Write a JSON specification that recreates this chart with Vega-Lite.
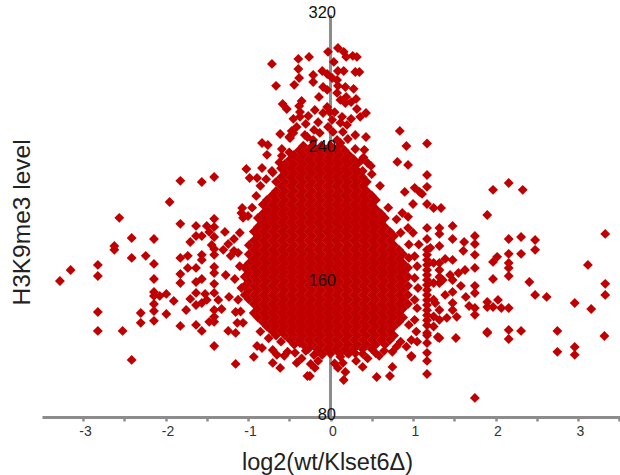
{"$schema":"https://vega.github.io/schema/vega-lite/v6.json","width":578,"height":402,"autosize":{"type":"none"},"padding":{"left":42,"top":15,"right":0,"bottom":58},"background":"white","config":{"view":{"stroke":null}},
"data":{"values":[
{"x":-1.0,"y":200},{"x":-0.95,"y":205},{"x":-0.9,"y":212},{"x":-0.85,"y":218},{"x":-0.78,"y":222},{"x":-0.7,"y":226},{"x":-0.5,"y":238},{"x":-0.62,"y":232},{"x":0.3,"y":240},{"x":0.4,"y":235},{"x":0.5,"y":225},{"x":0.6,"y":218},{"x":0.7,"y":205},{"x":0.8,"y":198},{"x":0.85,"y":190},{"x":0.95,"y":175},{"x":-0.6,"y":125},{"x":-0.52,"y":119},{"x":-0.35,"y":115},{"x":-0.2,"y":117},{"x":0.05,"y":112},{"x":0.3,"y":118},{"x":0.45,"y":115},{"x":0.55,"y":118},{"x":0.8,"y":122},{"x":-0.75,"y":127},{"x":-0.85,"y":131},{"x":0.85,"y":125},{"x":0.95,"y":135},{"x":1.05,"y":125},{"x":-0.3,"y":255},{"x":-0.15,"y":256},{"x":0.25,"y":258},{"x":0.05,"y":262},{"x":-0.45,"y":258},{"x":0.25,"y":268},
{"x":-1.82,"y":221},{"x":-1.56,"y":220.3},{"x":-1.41,"y":223.3},{"x":-1.95,"y":208.4},{"x":-2.56,"y":198.9},{"x":-2.41,"y":186.9},{"x":-2.14,"y":186.3},{"x":-2.62,"y":182.1},{"x":-2.62,"y":179.8},{"x":-2.41,"y":175},{"x":-2.24,"y":176.2},{"x":-2.14,"y":171.4},{"x":-2.82,"y":170.8},{"x":-2.82,"y":164.2},{"x":-3.15,"y":167.8},{"x":-3.28,"y":161.2},{"x":-2.14,"y":162.4},{"x":-2.14,"y":154.7},{"x":-2.14,"y":152.3},{"x":-2.07,"y":152.3},{"x":-1.99,"y":153.5},{"x":-1.9,"y":149.3},{"x":-2.14,"y":147.5},{"x":-2.14,"y":143.3},{"x":-2.3,"y":142.1},{"x":-2.3,"y":136.2},{"x":-2.14,"y":137.4},{"x":-1.99,"y":141.5},{"x":-2.82,"y":142.7},{"x":-2.82,"y":131.4},{"x":-2.52,"y":131.4},{"x":-2.41,"y":114.1},{"x":-1.82,"y":134.4},{"x":-1.41,"y":122.4},{"x":-1.15,"y":111.7},
{"x":-1.82,"y":195.3},{"x":-1.63,"y":194.1},{"x":-1.5,"y":194.1},{"x":-1.41,"y":198.3},{"x":-1.41,"y":193.5},{"x":-1.47,"y":190.5},{"x":-1.28,"y":190.5},{"x":-1.63,"y":188.1},{"x":-1.56,"y":188.1},{"x":-1.41,"y":187.5},{"x":-1.7,"y":184.5},{"x":-1.17,"y":186.3},{"x":-1.24,"y":183.3},{"x":-1.44,"y":182.7},{"x":-1.41,"y":180.3},{"x":-1.3,"y":179.8},{"x":-1.17,"y":179.2},{"x":-1.21,"y":176.2},{"x":-1.56,"y":176.8},{"x":-1.56,"y":173.8},{"x":-1.73,"y":176.2},{"x":-1.82,"y":175},{"x":-1.41,"y":176.8},{"x":-1.73,"y":169},{"x":-1.63,"y":169},{"x":-1.41,"y":169.6},{"x":-1.41,"y":166},{"x":-1.82,"y":165.4},{"x":-1.27,"y":164.8},{"x":-1.16,"y":162.4},{"x":-1.82,"y":160},{"x":-1.63,"y":160.6},{"x":-1.56,"y":162.4},{"x":-1.41,"y":159.5},{"x":-1.63,"y":154.1},{"x":-1.7,"y":150.5},{"x":-1.63,"y":146.9},{"x":-1.75,"y":143.9},{"x":-1.52,"y":153.5},{"x":-1.41,"y":154.1},{"x":-1.5,"y":149.9},{"x":-1.56,"y":148.1},{"x":-1.36,"y":149.9},{"x":-1.23,"y":151.7},{"x":-1.41,"y":143.9},{"x":-1.41,"y":139.8},{"x":-1.32,"y":144.5},{"x":-1.15,"y":142.7},{"x":-1.47,"y":136.8},{"x":-1.41,"y":136.8},{"x":-1.63,"y":135},{"x":-1.56,"y":131.4},{"x":-1.24,"y":131.4},{"x":-1.15,"y":130.2},{"x":-1.13,"y":136.2},{"x":-1.06,"y":136.2},{"x":-1.08,"y":201.8},{"x":-1.06,"y":198.9},{"x":-1.07,"y":204.8},
{"x":-0.71,"y":290.8},{"x":-0.66,"y":277.7},{"x":-0.39,"y":293.8},{"x":-0.26,"y":295},{"x":-0.39,"y":287.8},{"x":-0.38,"y":282.4},{"x":-0.44,"y":278.3},{"x":-0.21,"y":284.2},{"x":-0.21,"y":280},{"x":-0.03,"y":298},{"x":0.09,"y":300.3},{"x":0.16,"y":298},{"x":0.19,"y":295},{"x":0.27,"y":295.6},{"x":0.32,"y":295},{"x":0.04,"y":292},{"x":-0.1,"y":286.6},{"x":-0.04,"y":284.8},{"x":0.09,"y":286.6},{"x":0.16,"y":286.6},{"x":0.3,"y":286},{"x":0.35,"y":286},{"x":0.02,"y":282.4},{"x":0.08,"y":281.2},{"x":-0.09,"y":277},{"x":-0.04,"y":275.3},{"x":0.09,"y":277.7},{"x":0.18,"y":277},{"x":0.28,"y":275.9},{"x":0.08,"y":273.5},{"x":-0.14,"y":271.1},{"x":0.31,"y":269.9},{"x":-0.35,"y":268.7},{"x":-0.58,"y":266.9},{"x":-0.53,"y":263.9},{"x":-0.38,"y":265.7},{"x":-0.37,"y":262.1},{"x":-0.19,"y":263.3},{"x":-0.04,"y":265.1},{"x":-0.01,"y":262.1},{"x":-0.09,"y":261.5},{"x":0.12,"y":269.3},{"x":0.18,"y":267.5},{"x":0.19,"y":271.1},{"x":-0.37,"y":259.2},{"x":-0.27,"y":259.7},{"x":0.32,"y":263.9},{"x":0.36,"y":259.2},{"x":0.43,"y":261.5},{"x":0.14,"y":259.2},{"x":0.02,"y":257.4},{"x":0.12,"y":255.6},{"x":0.2,"y":254.4},{"x":-0.03,"y":253.2},{"x":-0.41,"y":253.2},{"x":-0.47,"y":250.8},{"x":-0.61,"y":249},{"x":-0.5,"y":247.2},{"x":-0.2,"y":251.4},{"x":-0.31,"y":248.4},{"x":-0.13,"y":249.6},{"x":0.03,"y":250.2},{"x":0.15,"y":250.2},{"x":0.3,"y":248.4},{"x":0.43,"y":247.2},{"x":0.21,"y":246},{"x":0.84,"y":250.8},{"x":0.92,"y":241.8},{"x":0.81,"y":232.3},{"x":0.94,"y":230.5},{"x":-0.83,"y":243.6},{"x":-0.76,"y":242.4},{"x":-0.59,"y":240},{"x":-0.77,"y":236.5},{"x":-0.59,"y":235.9},{"x":-1.02,"y":228.1},{"x":-0.83,"y":228.7},{"x":-0.71,"y":226.9},{"x":0.41,"y":239.5},{"x":0.38,"y":233.5},{"x":0.45,"y":231.7},{"x":0.49,"y":229.9},{"x":0.33,"y":226.9},{"x":0.39,"y":226.9},{"x":-0.98,"y":222.7},{"x":-0.89,"y":222.7},{"x":-0.49,"y":246.6},{"x":-0.28,"y":247.2},{"x":-0.21,"y":245.4},{"x":0.08,"y":245.4},{"x":0.12,"y":243.6},{"x":-0.45,"y":249.6},
{"x":1.17,"y":243.3},{"x":1.17,"y":224.5},{"x":1.17,"y":217.4},{"x":0.9,"y":214.4},{"x":1.02,"y":216.8},{"x":1.08,"y":214.4},{"x":1.11,"y":213.2},{"x":1.0,"y":207.2},{"x":1.17,"y":207.2},{"x":1.25,"y":204.8},{"x":1.34,"y":204.8},{"x":0.94,"y":199.5},{"x":0.87,"y":201.8},{"x":0.94,"y":192.9},{"x":1.17,"y":192.9},{"x":1.32,"y":192.9},{"x":1.32,"y":189.3},{"x":1.48,"y":194.1},{"x":1.48,"y":186.3},{"x":1.75,"y":188.1},{"x":1.75,"y":183.3},{"x":1.62,"y":184.5},{"x":1.61,"y":179.2},{"x":1.75,"y":176.8},{"x":1.17,"y":186.3},{"x":1.32,"y":182.1},{"x":1.21,"y":181},{"x":1.75,"y":169},{"x":1.63,"y":167.8},{"x":1.55,"y":166},{"x":1.48,"y":173.8},{"x":1.39,"y":174.4},{"x":1.32,"y":172},{"x":1.32,"y":167.8},{"x":1.32,"y":163.6},{"x":1.32,"y":160},{"x":1.36,"y":161.8},{"x":1.45,"y":164.8},{"x":1.48,"y":161.8},{"x":1.58,"y":158.3},{"x":1.75,"y":158.3},{"x":1.75,"y":154},{"x":1.64,"y":151.7},{"x":1.48,"y":154.7},{"x":1.39,"y":152.9},{"x":1.68,"y":146.3},{"x":1.75,"y":145.1},{"x":1.75,"y":141},{"x":1.48,"y":148.1},{"x":1.48,"y":143.9},{"x":1.53,"y":139.8},{"x":1.41,"y":139.2},{"x":1.32,"y":138},{"x":1.27,"y":148.1},{"x":1.32,"y":143.9},{"x":1.32,"y":127.2},{"x":1.52,"y":127.2},{"x":0.98,"y":115.9},{"x":1.75,"y":91.4},
{"x":1.97,"y":215.6},{"x":2.16,"y":219.7},{"x":2.33,"y":215.6},{"x":1.9,"y":200.6},{"x":3.33,"y":189.3},{"x":2.16,"y":186.3},{"x":2.31,"y":187.5},{"x":2.48,"y":185.7},{"x":2.48,"y":179.8},{"x":2.16,"y":177.4},{"x":2.31,"y":177.4},{"x":2.02,"y":175.6},{"x":1.97,"y":172.6},{"x":2.16,"y":172},{"x":2.16,"y":169},{"x":2.16,"y":164.2},{"x":1.97,"y":162.4},{"x":3.12,"y":170.8},{"x":2.41,"y":160.6},{"x":3.33,"y":159.5},{"x":3.33,"y":152.9},{"x":2.48,"y":152.9},{"x":2.62,"y":151.7},{"x":2.96,"y":148.1},{"x":3.16,"y":144.5},{"x":1.9,"y":148.7},{"x":1.9,"y":145.7},{"x":2.03,"y":149.9},{"x":1.97,"y":145.7},{"x":2.07,"y":145.1},{"x":2.16,"y":145.1},{"x":1.9,"y":130.8},{"x":2.16,"y":132},{"x":2.16,"y":126.6},{"x":2.31,"y":131.4},{"x":2.75,"y":131.4},{"x":3.32,"y":128.4},{"x":2.75,"y":118.9},{"x":2.96,"y":121.8},{"x":2.96,"y":117.1},
{"x":-0.93,"y":115.9},{"x":-0.89,"y":122.4},{"x":-0.83,"y":121.2},{"x":-0.7,"y":120},{"x":-0.65,"y":117.1},{"x":-0.7,"y":112.3},{"x":-0.56,"y":116.5},{"x":-0.61,"y":109.3},{"x":-0.41,"y":112.3},{"x":-0.43,"y":118.3},{"x":-0.37,"y":124.2},{"x":-0.3,"y":119.5},{"x":-0.24,"y":111.7},{"x":-0.19,"y":109.3},{"x":-0.15,"y":113.5},{"x":-0.28,"y":104.5},{"x":-0.25,"y":104.5},{"x":-0.1,"y":117.1},{"x":0.09,"y":109.3},{"x":0.16,"y":102.1},{"x":0.18,"y":106.9},{"x":0.15,"y":112.3},{"x":0.12,"y":115.9},{"x":0.2,"y":118.3},{"x":0.31,"y":113.5},{"x":0.39,"y":109.9},{"x":0.39,"y":117.7},{"x":0.56,"y":103.9},{"x":0.72,"y":104.5},{"x":0.75,"y":109.9},{"x":0.59,"y":116.5},{"x":0.65,"y":119.5},{"x":0.75,"y":118.9},{"x":0.98,"y":116.5},{"x":1.17,"y":105.7},{"x":1.17,"y":113.5},{"x":1.17,"y":118.3},{"x":1.17,"y":124.2},{"x":1.3,"y":127.8},{"x":1.17,"y":130.2},{"x":1.9,"y":130.2},
{"x":1.17,"y":179.8},{"x":1.17,"y":176.8},{"x":1.17,"y":173.8},{"x":1.17,"y":170.8},{"x":1.17,"y":167.8},{"x":1.17,"y":164.8},{"x":1.17,"y":161.8},{"x":1.17,"y":158.8},{"x":1.17,"y":155.8},{"x":1.17,"y":152.8},{"x":1.17,"y":149.8},{"x":1.17,"y":146.8},{"x":1.17,"y":143.8},{"x":1.17,"y":140.8},{"x":1.17,"y":137.8},{"x":1.17,"y":134.8},{"x":1.17,"y":128.8},
{"x":1.02,"y":176},{"x":1.05,"y":170},{"x":1.02,"y":163},{"x":1.06,"y":157},{"x":1.02,"y":150},{"x":1.05,"y":145},{"x":1.02,"y":138},{"x":1.04,"y":131},{"x":0.98,"y":126},{"x":0.92,"y":122},{"x":1.07,"y":183},{"x":1.0,"y":190},{"x":0.95,"y":183},{"x":1.25,"y":172},{"x":1.25,"y":160},{"x":1.25,"y":150},{"x":1.25,"y":140},{"x":1.25,"y":134},{"x":-1.1,"y":190},{"x":-1.12,"y":178},{"x":-1.1,"y":170},{"x":-1.12,"y":150},{"x":-1.09,"y":143},{"x":-1.08,"y":157},
{"x":-0.33,"y":242},{"x":-0.22,"y":242},{"x":-0.11,"y":242},{"x":0,"y":242},{"x":0.11,"y":242},
{"x":-0.38,"y":239.3},{"x":-0.27,"y":239.3},{"x":-0.16,"y":239.3},{"x":-0.05,"y":239.3},{"x":0.06,"y":239.3},{"x":0.17,"y":239.3},
{"x":-0.44,"y":236.6},{"x":-0.33,"y":236.6},{"x":-0.22,"y":236.6},{"x":-0.11,"y":236.6},{"x":0,"y":236.6},{"x":0.11,"y":236.6},{"x":0.22,"y":236.6},
{"x":-0.49,"y":233.9},{"x":-0.38,"y":233.9},{"x":-0.27,"y":233.9},{"x":-0.16,"y":233.9},{"x":-0.05,"y":233.9},{"x":0.06,"y":233.9},{"x":0.17,"y":233.9},{"x":0.28,"y":233.9},
{"x":-0.55,"y":231.2},{"x":-0.44,"y":231.2},{"x":-0.33,"y":231.2},{"x":-0.22,"y":231.2},{"x":-0.11,"y":231.2},{"x":0,"y":231.2},{"x":0.11,"y":231.2},{"x":0.22,"y":231.2},{"x":0.33,"y":231.2},
{"x":-0.6,"y":228.5},{"x":-0.49,"y":228.5},{"x":-0.38,"y":228.5},{"x":-0.27,"y":228.5},{"x":-0.16,"y":228.5},{"x":-0.05,"y":228.5},{"x":0.06,"y":228.5},{"x":0.17,"y":228.5},{"x":0.28,"y":228.5},
{"x":-0.55,"y":225.8},{"x":-0.44,"y":225.8},{"x":-0.33,"y":225.8},{"x":-0.22,"y":225.8},{"x":-0.11,"y":225.8},{"x":0,"y":225.8},{"x":0.11,"y":225.8},{"x":0.22,"y":225.8},{"x":0.33,"y":225.8},
{"x":-0.6,"y":223.1},{"x":-0.49,"y":223.1},{"x":-0.38,"y":223.1},{"x":-0.27,"y":223.1},{"x":-0.16,"y":223.1},{"x":-0.05,"y":223.1},{"x":0.06,"y":223.1},{"x":0.17,"y":223.1},{"x":0.28,"y":223.1},{"x":0.39,"y":223.1},
{"x":-0.66,"y":220.4},{"x":-0.55,"y":220.4},{"x":-0.44,"y":220.4},{"x":-0.33,"y":220.4},{"x":-0.22,"y":220.4},{"x":-0.11,"y":220.4},{"x":0,"y":220.4},{"x":0.11,"y":220.4},{"x":0.22,"y":220.4},{"x":0.33,"y":220.4},{"x":0.44,"y":220.4},
{"x":-0.6,"y":217.7},{"x":-0.49,"y":217.7},{"x":-0.38,"y":217.7},{"x":-0.27,"y":217.7},{"x":-0.16,"y":217.7},{"x":-0.05,"y":217.7},{"x":0.06,"y":217.7},{"x":0.17,"y":217.7},{"x":0.28,"y":217.7},{"x":0.39,"y":217.7},
{"x":-0.66,"y":215},{"x":-0.55,"y":215},{"x":-0.44,"y":215},{"x":-0.33,"y":215},{"x":-0.22,"y":215},{"x":-0.11,"y":215},{"x":0,"y":215},{"x":0.11,"y":215},{"x":0.22,"y":215},{"x":0.33,"y":215},{"x":0.44,"y":215},
{"x":-0.71,"y":212.3},{"x":-0.6,"y":212.3},{"x":-0.49,"y":212.3},{"x":-0.38,"y":212.3},{"x":-0.27,"y":212.3},{"x":-0.16,"y":212.3},{"x":-0.05,"y":212.3},{"x":0.06,"y":212.3},{"x":0.17,"y":212.3},{"x":0.28,"y":212.3},{"x":0.39,"y":212.3},{"x":0.5,"y":212.3},
{"x":-0.77,"y":209.6},{"x":-0.66,"y":209.6},{"x":-0.55,"y":209.6},{"x":-0.44,"y":209.6},{"x":-0.33,"y":209.6},{"x":-0.22,"y":209.6},{"x":-0.11,"y":209.6},{"x":0,"y":209.6},{"x":0.11,"y":209.6},{"x":0.22,"y":209.6},{"x":0.33,"y":209.6},{"x":0.44,"y":209.6},{"x":0.55,"y":209.6},
{"x":-0.82,"y":206.9},{"x":-0.71,"y":206.9},{"x":-0.6,"y":206.9},{"x":-0.49,"y":206.9},{"x":-0.38,"y":206.9},{"x":-0.27,"y":206.9},{"x":-0.16,"y":206.9},{"x":-0.05,"y":206.9},{"x":0.06,"y":206.9},{"x":0.17,"y":206.9},{"x":0.28,"y":206.9},{"x":0.39,"y":206.9},{"x":0.5,"y":206.9},
{"x":-0.77,"y":204.2},{"x":-0.66,"y":204.2},{"x":-0.55,"y":204.2},{"x":-0.44,"y":204.2},{"x":-0.33,"y":204.2},{"x":-0.22,"y":204.2},{"x":-0.11,"y":204.2},{"x":0,"y":204.2},{"x":0.11,"y":204.2},{"x":0.22,"y":204.2},{"x":0.33,"y":204.2},{"x":0.44,"y":204.2},{"x":0.55,"y":204.2},
{"x":-0.82,"y":201.5},{"x":-0.71,"y":201.5},{"x":-0.6,"y":201.5},{"x":-0.49,"y":201.5},{"x":-0.38,"y":201.5},{"x":-0.27,"y":201.5},{"x":-0.16,"y":201.5},{"x":-0.05,"y":201.5},{"x":0.06,"y":201.5},{"x":0.17,"y":201.5},{"x":0.28,"y":201.5},{"x":0.39,"y":201.5},{"x":0.5,"y":201.5},{"x":0.61,"y":201.5},
{"x":-0.88,"y":198.8},{"x":-0.77,"y":198.8},{"x":-0.66,"y":198.8},{"x":-0.55,"y":198.8},{"x":-0.44,"y":198.8},{"x":-0.33,"y":198.8},{"x":-0.22,"y":198.8},{"x":-0.11,"y":198.8},{"x":0,"y":198.8},{"x":0.11,"y":198.8},{"x":0.22,"y":198.8},{"x":0.33,"y":198.8},{"x":0.44,"y":198.8},{"x":0.55,"y":198.8},{"x":0.66,"y":198.8},
{"x":-0.82,"y":196.1},{"x":-0.71,"y":196.1},{"x":-0.6,"y":196.1},{"x":-0.49,"y":196.1},{"x":-0.38,"y":196.1},{"x":-0.27,"y":196.1},{"x":-0.16,"y":196.1},{"x":-0.05,"y":196.1},{"x":0.06,"y":196.1},{"x":0.17,"y":196.1},{"x":0.28,"y":196.1},{"x":0.39,"y":196.1},{"x":0.5,"y":196.1},{"x":0.61,"y":196.1},
{"x":-0.88,"y":193.4},{"x":-0.77,"y":193.4},{"x":-0.66,"y":193.4},{"x":-0.55,"y":193.4},{"x":-0.44,"y":193.4},{"x":-0.33,"y":193.4},{"x":-0.22,"y":193.4},{"x":-0.11,"y":193.4},{"x":0,"y":193.4},{"x":0.11,"y":193.4},{"x":0.22,"y":193.4},{"x":0.33,"y":193.4},{"x":0.44,"y":193.4},{"x":0.55,"y":193.4},{"x":0.66,"y":193.4},
{"x":-0.93,"y":190.7},{"x":-0.82,"y":190.7},{"x":-0.71,"y":190.7},{"x":-0.6,"y":190.7},{"x":-0.49,"y":190.7},{"x":-0.38,"y":190.7},{"x":-0.27,"y":190.7},{"x":-0.16,"y":190.7},{"x":-0.05,"y":190.7},{"x":0.06,"y":190.7},{"x":0.17,"y":190.7},{"x":0.28,"y":190.7},{"x":0.39,"y":190.7},{"x":0.5,"y":190.7},{"x":0.61,"y":190.7},{"x":0.72,"y":190.7},
{"x":-0.88,"y":188},{"x":-0.77,"y":188},{"x":-0.66,"y":188},{"x":-0.55,"y":188},{"x":-0.44,"y":188},{"x":-0.33,"y":188},{"x":-0.22,"y":188},{"x":-0.11,"y":188},{"x":0,"y":188},{"x":0.11,"y":188},{"x":0.22,"y":188},{"x":0.33,"y":188},{"x":0.44,"y":188},{"x":0.55,"y":188},{"x":0.66,"y":188},{"x":0.77,"y":188},
{"x":-0.93,"y":185.3},{"x":-0.82,"y":185.3},{"x":-0.71,"y":185.3},{"x":-0.6,"y":185.3},{"x":-0.49,"y":185.3},{"x":-0.38,"y":185.3},{"x":-0.27,"y":185.3},{"x":-0.16,"y":185.3},{"x":-0.05,"y":185.3},{"x":0.06,"y":185.3},{"x":0.17,"y":185.3},{"x":0.28,"y":185.3},{"x":0.39,"y":185.3},{"x":0.5,"y":185.3},{"x":0.61,"y":185.3},{"x":0.72,"y":185.3},
{"x":-0.99,"y":182.6},{"x":-0.88,"y":182.6},{"x":-0.77,"y":182.6},{"x":-0.66,"y":182.6},{"x":-0.55,"y":182.6},{"x":-0.44,"y":182.6},{"x":-0.33,"y":182.6},{"x":-0.22,"y":182.6},{"x":-0.11,"y":182.6},{"x":0,"y":182.6},{"x":0.11,"y":182.6},{"x":0.22,"y":182.6},{"x":0.33,"y":182.6},{"x":0.44,"y":182.6},{"x":0.55,"y":182.6},{"x":0.66,"y":182.6},{"x":0.77,"y":182.6},
{"x":-0.93,"y":179.9},{"x":-0.82,"y":179.9},{"x":-0.71,"y":179.9},{"x":-0.6,"y":179.9},{"x":-0.49,"y":179.9},{"x":-0.38,"y":179.9},{"x":-0.27,"y":179.9},{"x":-0.16,"y":179.9},{"x":-0.05,"y":179.9},{"x":0.06,"y":179.9},{"x":0.17,"y":179.9},{"x":0.28,"y":179.9},{"x":0.39,"y":179.9},{"x":0.5,"y":179.9},{"x":0.61,"y":179.9},{"x":0.72,"y":179.9},{"x":0.83,"y":179.9},
{"x":-0.99,"y":177.2},{"x":-0.88,"y":177.2},{"x":-0.77,"y":177.2},{"x":-0.66,"y":177.2},{"x":-0.55,"y":177.2},{"x":-0.44,"y":177.2},{"x":-0.33,"y":177.2},{"x":-0.22,"y":177.2},{"x":-0.11,"y":177.2},{"x":0,"y":177.2},{"x":0.11,"y":177.2},{"x":0.22,"y":177.2},{"x":0.33,"y":177.2},{"x":0.44,"y":177.2},{"x":0.55,"y":177.2},{"x":0.66,"y":177.2},{"x":0.77,"y":177.2},{"x":0.88,"y":177.2},
{"x":-0.93,"y":174.5},{"x":-0.82,"y":174.5},{"x":-0.71,"y":174.5},{"x":-0.6,"y":174.5},{"x":-0.49,"y":174.5},{"x":-0.38,"y":174.5},{"x":-0.27,"y":174.5},{"x":-0.16,"y":174.5},{"x":-0.05,"y":174.5},{"x":0.06,"y":174.5},{"x":0.17,"y":174.5},{"x":0.28,"y":174.5},{"x":0.39,"y":174.5},{"x":0.5,"y":174.5},{"x":0.61,"y":174.5},{"x":0.72,"y":174.5},{"x":0.83,"y":174.5},
{"x":-0.99,"y":171.8},{"x":-0.88,"y":171.8},{"x":-0.77,"y":171.8},{"x":-0.66,"y":171.8},{"x":-0.55,"y":171.8},{"x":-0.44,"y":171.8},{"x":-0.33,"y":171.8},{"x":-0.22,"y":171.8},{"x":-0.11,"y":171.8},{"x":0,"y":171.8},{"x":0.11,"y":171.8},{"x":0.22,"y":171.8},{"x":0.33,"y":171.8},{"x":0.44,"y":171.8},{"x":0.55,"y":171.8},{"x":0.66,"y":171.8},{"x":0.77,"y":171.8},{"x":0.88,"y":171.8},
{"x":-1.04,"y":169.1},{"x":-0.93,"y":169.1},{"x":-0.82,"y":169.1},{"x":-0.71,"y":169.1},{"x":-0.6,"y":169.1},{"x":-0.49,"y":169.1},{"x":-0.38,"y":169.1},{"x":-0.27,"y":169.1},{"x":-0.16,"y":169.1},{"x":-0.05,"y":169.1},{"x":0.06,"y":169.1},{"x":0.17,"y":169.1},{"x":0.28,"y":169.1},{"x":0.39,"y":169.1},{"x":0.5,"y":169.1},{"x":0.61,"y":169.1},{"x":0.72,"y":169.1},{"x":0.83,"y":169.1},{"x":0.94,"y":169.1},
{"x":-0.99,"y":166.4},{"x":-0.88,"y":166.4},{"x":-0.77,"y":166.4},{"x":-0.66,"y":166.4},{"x":-0.55,"y":166.4},{"x":-0.44,"y":166.4},{"x":-0.33,"y":166.4},{"x":-0.22,"y":166.4},{"x":-0.11,"y":166.4},{"x":0,"y":166.4},{"x":0.11,"y":166.4},{"x":0.22,"y":166.4},{"x":0.33,"y":166.4},{"x":0.44,"y":166.4},{"x":0.55,"y":166.4},{"x":0.66,"y":166.4},{"x":0.77,"y":166.4},{"x":0.88,"y":166.4},
{"x":-1.04,"y":163.7},{"x":-0.93,"y":163.7},{"x":-0.82,"y":163.7},{"x":-0.71,"y":163.7},{"x":-0.6,"y":163.7},{"x":-0.49,"y":163.7},{"x":-0.38,"y":163.7},{"x":-0.27,"y":163.7},{"x":-0.16,"y":163.7},{"x":-0.05,"y":163.7},{"x":0.06,"y":163.7},{"x":0.17,"y":163.7},{"x":0.28,"y":163.7},{"x":0.39,"y":163.7},{"x":0.5,"y":163.7},{"x":0.61,"y":163.7},{"x":0.72,"y":163.7},{"x":0.83,"y":163.7},{"x":0.94,"y":163.7},
{"x":-0.99,"y":161},{"x":-0.88,"y":161},{"x":-0.77,"y":161},{"x":-0.66,"y":161},{"x":-0.55,"y":161},{"x":-0.44,"y":161},{"x":-0.33,"y":161},{"x":-0.22,"y":161},{"x":-0.11,"y":161},{"x":0,"y":161},{"x":0.11,"y":161},{"x":0.22,"y":161},{"x":0.33,"y":161},{"x":0.44,"y":161},{"x":0.55,"y":161},{"x":0.66,"y":161},{"x":0.77,"y":161},{"x":0.88,"y":161},
{"x":-1.04,"y":158.3},{"x":-0.93,"y":158.3},{"x":-0.82,"y":158.3},{"x":-0.71,"y":158.3},{"x":-0.6,"y":158.3},{"x":-0.49,"y":158.3},{"x":-0.38,"y":158.3},{"x":-0.27,"y":158.3},{"x":-0.16,"y":158.3},{"x":-0.05,"y":158.3},{"x":0.06,"y":158.3},{"x":0.17,"y":158.3},{"x":0.28,"y":158.3},{"x":0.39,"y":158.3},{"x":0.5,"y":158.3},{"x":0.61,"y":158.3},{"x":0.72,"y":158.3},{"x":0.83,"y":158.3},{"x":0.94,"y":158.3},
{"x":-0.99,"y":155.6},{"x":-0.88,"y":155.6},{"x":-0.77,"y":155.6},{"x":-0.66,"y":155.6},{"x":-0.55,"y":155.6},{"x":-0.44,"y":155.6},{"x":-0.33,"y":155.6},{"x":-0.22,"y":155.6},{"x":-0.11,"y":155.6},{"x":0,"y":155.6},{"x":0.11,"y":155.6},{"x":0.22,"y":155.6},{"x":0.33,"y":155.6},{"x":0.44,"y":155.6},{"x":0.55,"y":155.6},{"x":0.66,"y":155.6},{"x":0.77,"y":155.6},{"x":0.88,"y":155.6},
{"x":-1.04,"y":152.9},{"x":-0.93,"y":152.9},{"x":-0.82,"y":152.9},{"x":-0.71,"y":152.9},{"x":-0.6,"y":152.9},{"x":-0.49,"y":152.9},{"x":-0.38,"y":152.9},{"x":-0.27,"y":152.9},{"x":-0.16,"y":152.9},{"x":-0.05,"y":152.9},{"x":0.06,"y":152.9},{"x":0.17,"y":152.9},{"x":0.28,"y":152.9},{"x":0.39,"y":152.9},{"x":0.5,"y":152.9},{"x":0.61,"y":152.9},{"x":0.72,"y":152.9},{"x":0.83,"y":152.9},{"x":0.94,"y":152.9},
{"x":-0.99,"y":150.2},{"x":-0.88,"y":150.2},{"x":-0.77,"y":150.2},{"x":-0.66,"y":150.2},{"x":-0.55,"y":150.2},{"x":-0.44,"y":150.2},{"x":-0.33,"y":150.2},{"x":-0.22,"y":150.2},{"x":-0.11,"y":150.2},{"x":0,"y":150.2},{"x":0.11,"y":150.2},{"x":0.22,"y":150.2},{"x":0.33,"y":150.2},{"x":0.44,"y":150.2},{"x":0.55,"y":150.2},{"x":0.66,"y":150.2},{"x":0.77,"y":150.2},{"x":0.88,"y":150.2},
{"x":-0.93,"y":147.5},{"x":-0.82,"y":147.5},{"x":-0.71,"y":147.5},{"x":-0.6,"y":147.5},{"x":-0.49,"y":147.5},{"x":-0.38,"y":147.5},{"x":-0.27,"y":147.5},{"x":-0.16,"y":147.5},{"x":-0.05,"y":147.5},{"x":0.06,"y":147.5},{"x":0.17,"y":147.5},{"x":0.28,"y":147.5},{"x":0.39,"y":147.5},{"x":0.5,"y":147.5},{"x":0.61,"y":147.5},{"x":0.72,"y":147.5},{"x":0.83,"y":147.5},{"x":0.94,"y":147.5},
{"x":-0.88,"y":144.8},{"x":-0.77,"y":144.8},{"x":-0.66,"y":144.8},{"x":-0.55,"y":144.8},{"x":-0.44,"y":144.8},{"x":-0.33,"y":144.8},{"x":-0.22,"y":144.8},{"x":-0.11,"y":144.8},{"x":0,"y":144.8},{"x":0.11,"y":144.8},{"x":0.22,"y":144.8},{"x":0.33,"y":144.8},{"x":0.44,"y":144.8},{"x":0.55,"y":144.8},{"x":0.66,"y":144.8},{"x":0.77,"y":144.8},{"x":0.88,"y":144.8},
{"x":-0.93,"y":142.1},{"x":-0.82,"y":142.1},{"x":-0.71,"y":142.1},{"x":-0.6,"y":142.1},{"x":-0.49,"y":142.1},{"x":-0.38,"y":142.1},{"x":-0.27,"y":142.1},{"x":-0.16,"y":142.1},{"x":-0.05,"y":142.1},{"x":0.06,"y":142.1},{"x":0.17,"y":142.1},{"x":0.28,"y":142.1},{"x":0.39,"y":142.1},{"x":0.5,"y":142.1},{"x":0.61,"y":142.1},{"x":0.72,"y":142.1},{"x":0.83,"y":142.1},
{"x":-0.88,"y":139.4},{"x":-0.77,"y":139.4},{"x":-0.66,"y":139.4},{"x":-0.55,"y":139.4},{"x":-0.44,"y":139.4},{"x":-0.33,"y":139.4},{"x":-0.22,"y":139.4},{"x":-0.11,"y":139.4},{"x":0,"y":139.4},{"x":0.11,"y":139.4},{"x":0.22,"y":139.4},{"x":0.33,"y":139.4},{"x":0.44,"y":139.4},{"x":0.55,"y":139.4},{"x":0.66,"y":139.4},{"x":0.77,"y":139.4},{"x":0.88,"y":139.4},
{"x":-0.82,"y":136.7},{"x":-0.71,"y":136.7},{"x":-0.6,"y":136.7},{"x":-0.49,"y":136.7},{"x":-0.38,"y":136.7},{"x":-0.27,"y":136.7},{"x":-0.16,"y":136.7},{"x":-0.05,"y":136.7},{"x":0.06,"y":136.7},{"x":0.17,"y":136.7},{"x":0.28,"y":136.7},{"x":0.39,"y":136.7},{"x":0.5,"y":136.7},{"x":0.61,"y":136.7},{"x":0.72,"y":136.7},{"x":0.83,"y":136.7},
{"x":-0.77,"y":134},{"x":-0.66,"y":134},{"x":-0.55,"y":134},{"x":-0.44,"y":134},{"x":-0.33,"y":134},{"x":-0.22,"y":134},{"x":-0.11,"y":134},{"x":0,"y":134},{"x":0.11,"y":134},{"x":0.22,"y":134},{"x":0.33,"y":134},{"x":0.44,"y":134},{"x":0.55,"y":134},{"x":0.66,"y":134},{"x":0.77,"y":134},
{"x":-0.71,"y":131.3},{"x":-0.6,"y":131.3},{"x":-0.49,"y":131.3},{"x":-0.38,"y":131.3},{"x":-0.27,"y":131.3},{"x":-0.16,"y":131.3},{"x":-0.05,"y":131.3},{"x":0.06,"y":131.3},{"x":0.17,"y":131.3},{"x":0.28,"y":131.3},{"x":0.39,"y":131.3},{"x":0.5,"y":131.3},{"x":0.61,"y":131.3},{"x":0.72,"y":131.3},
{"x":-0.66,"y":128.6},{"x":-0.55,"y":128.6},{"x":-0.44,"y":128.6},{"x":-0.33,"y":128.6},{"x":-0.22,"y":128.6},{"x":-0.11,"y":128.6},{"x":0,"y":128.6},{"x":0.11,"y":128.6},{"x":0.22,"y":128.6},{"x":0.33,"y":128.6},{"x":0.44,"y":128.6},{"x":0.55,"y":128.6},{"x":0.66,"y":128.6},{"x":0.77,"y":128.6},
{"x":-0.49,"y":125.9},{"x":-0.38,"y":125.9},{"x":-0.27,"y":125.9},{"x":-0.16,"y":125.9},{"x":-0.05,"y":125.9},{"x":0.06,"y":125.9},{"x":0.17,"y":125.9},{"x":0.28,"y":125.9},{"x":0.39,"y":125.9},{"x":0.5,"y":125.9},{"x":0.61,"y":125.9},{"x":0.72,"y":125.9},
{"x":-0.44,"y":123.2},{"x":-0.33,"y":123.2},{"x":-0.22,"y":123.2},{"x":-0.11,"y":123.2},{"x":0,"y":123.2},{"x":0.11,"y":123.2},{"x":0.22,"y":123.2},{"x":0.33,"y":123.2},{"x":0.44,"y":123.2},{"x":0.55,"y":123.2},{"x":0.66,"y":123.2},
{"x":-0.27,"y":120.5},{"x":-0.16,"y":120.5},{"x":-0.05,"y":120.5},{"x":0.06,"y":120.5},{"x":0.17,"y":120.5},{"x":0.28,"y":120.5},{"x":0.39,"y":120.5},{"x":0.5,"y":120.5},
{"x":-0.11,"y":117.8},{"x":0,"y":117.8},{"x":0.11,"y":117.8},{"x":0.22,"y":117.8}
]},
"encoding":{
"x":{"field":"x","type":"quantitative","scale":{"domain":[-3.497,3.509],"nice":false,"zero":false},"axis":{"orient":"bottom","title":"log2(wt/Klset6Δ)","titleFont":"Liberation Sans","titleFontSize":23.5,"titleFontWeight":"normal","titleColor":"#222222","titleX":285,"titleY":45,"titleBaseline":"middle","values":[-3.5,-3,-2.5,-2,-1.5,-1,-0.5,0,0.5,1,1.5,2,2.5,3,3.5],"labelExpr":"datum.value % 1 === 0 ? '' + datum.value : ''","labelFont":"Liberation Sans","labelFontSize":14,"labelColor":"#333333","labelPadding":3,"labelOffset":2,"labelOverlap":false,"grid":false,"domainColor":"#8c8c8c","domainWidth":3,"tickColor":"#8c8c8c","tickWidth":2.5,"tickSize":4}},
"y":{"field":"y","type":"quantitative","scale":{"domain":[80,320],"nice":false,"zero":false},"axis":{"orient":"left","offset":-288.5,"zindex":1,"title":"H3K9me3 level","titleFont":"Liberation Sans","titleFontSize":24.5,"titleFontWeight":"normal","titleColor":"#222222","titleX":-308,"titleY":207,"titleAngle":-90,"titleAlign":"center","titleBaseline":"middle","values":[80,160,240,320],"labelFont":"Liberation Sans","labelFontSize":16.5,"labelColor":"#111111","labelPadding":-5,"labelOffset":-3,"domain":false,"ticks":false,"grid":false}}
},
"layer":[
{"data":{"values":[{"x":0,"y":80,"y2":320}]},"mark":{"type":"rule","color":"#8c8c8c","strokeWidth":3},"encoding":{"y2":{"field":"y2"}}},
{"mark":{"type":"point","shape":"diamond","filled":true,"color":"#c00000","size":98,"opacity":1,"strokeWidth":0}}
]}
